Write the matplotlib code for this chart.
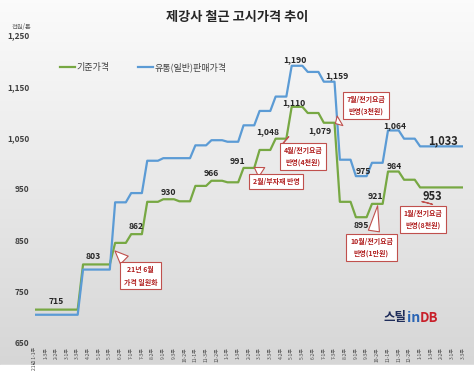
import numpy as np
import matplotlib
matplotlib.use("Agg")
import matplotlib.pyplot as plt
from matplotlib.lines import Line2D

plt.rcParams["font.family"] = ["Noto Sans CJK KR", "DejaVu Sans"]

# 3 points per month, Jan 2021 .. Mar 2023
base_price = [
    715, 715, 715, 715, 715, 715, 715, 715, 715,
    803, 803, 803, 803, 803, 803,
    845, 845, 845, 862, 862, 862, 925, 925, 925,
    930, 930, 930, 926, 926, 926, 956, 956, 956,
    966, 966, 966, 963, 963, 963, 991, 991, 991,
    1026, 1026, 1026, 1048, 1048, 1048, 1110, 1110, 1110,
    1098, 1098, 1098, 1079, 1079, 1079, 925, 925, 925,
    895, 895, 895, 921, 921, 921, 984, 984, 984,
    968, 968, 968, 953, 953, 953, 953, 953, 953, 953, 953, 953,
]
dist_price = [
    705, 705, 705, 705, 705, 705, 705, 705, 705,
    793, 793, 793, 793, 793, 793,
    924, 924, 924, 942, 942, 942, 1005, 1005, 1005,
    1010, 1010, 1010, 1010, 1010, 1010, 1035, 1035, 1035,
    1045, 1045, 1045, 1042, 1042, 1042, 1074, 1074, 1074,
    1102, 1102, 1102, 1130, 1130, 1130, 1190, 1190, 1190,
    1178, 1178, 1178, 1159, 1159, 1159, 1007, 1007, 1007,
    975, 975, 975, 1001, 1001, 1001, 1064, 1064, 1064,
    1048, 1048, 1048, 1033, 1033, 1033, 1033, 1033, 1033, 1033, 1033, 1033,
]
tick_labels = [
    "21년 1-1주", "1-3주", "2-2주", "3-1주", "3-3주", "4-2주", "5-1주", "5-3주",
    "6-2주", "7-1주", "7-3주", "8-2주", "9-1주", "9-3주", "10-2주", "11-1주",
    "11-3주", "12-2주", "1-1주", "1-3주", "2-2주", "3-1주", "3-3주", "4-2주",
    "5-1주", "5-3주", "6-2주", "7-1주", "7-3주", "8-2주", "9-1주", "9-3주",
    "10-2주", "11-1주", "11-3주", "12-2주", "1-1주", "1-3주", "2-2주", "3-1주",
    "3-3주",
]
y_ticks = [650, 750, 850, 950, 1050, 1150, 1250]

GREEN = "#77a843"
BLUE = "#5b9bd5"
RED = "#c0504d"
DARKRED = "#b01e1e"

fig = plt.figure(figsize=(4.74, 3.72), dpi=100)

# grey gradient background
bg = fig.add_axes([0, 0, 1, 1], zorder=0)
grad = np.linspace(0, 1, 256).reshape(-1, 1)
top, bottom = np.array([0.985, 0.985, 0.985]), np.array([0.84, 0.84, 0.84])
img = top + (bottom - top) * grad[:, :, None]
bg.imshow(img, aspect="auto", extent=[0, 1, 0.02, 1])
bg.axhspan(0, 0.02, color="white")
bg.set_xlim(0, 1)
bg.set_ylim(0, 1)
bg.axis("off")

ax = fig.add_axes([0.0736, 0.078, 0.903, 0.828], zorder=1)
ax.patch.set_alpha(0)
x = np.arange(len(base_price))
ax.plot(x, base_price, color=GREEN, lw=1.6)
ax.plot(x, dist_price, color=BLUE, lw=1.6)
ax.set_xlim(0, 80)
ax.set_ylim(650, 1250)
for s in ax.spines.values():
    s.set_visible(False)
ax.set_yticks(y_ticks)
ax.set_yticklabels([f"{v:,}" for v in y_ticks], fontsize=6, fontweight="bold",
                   color="#404040")
ax.set_xticks(range(0, 81, 2))
ax.set_xticklabels(tick_labels, rotation=90, fontsize=3.6, color="#505050")
ax.tick_params(length=0, pad=3)
ax.tick_params(axis="y", pad=4)

fig.text(22 / 474, 1 - 27 / 372, "천원/톤", fontsize=4.5, color="#606060",
         ha="center", va="center")
fig.text(0.5, 1 - 17 / 372, "제강사 철근 고시가격 추이", fontsize=9.5,
         fontweight="bold", color="#262626", ha="center", va="center")

handles = [Line2D([], [], color=GREEN, lw=1.6), Line2D([], [], color=BLUE, lw=1.6)]
fig.legend(handles, ["기준가격", "유통(일반)판매가격"], loc="center left",
           bbox_to_anchor=(52 / 474, 1 - 67 / 372), ncol=2, frameon=False,
           fontsize=6.5, handlelength=1.6, handletextpad=0.2, columnspacing=3.2,
           labelcolor="#404040")


def label(i, v, text, dx, dy, size=6.2, weight="bold"):
    ax.annotate(text, (i, v), xytext=(dx, dy), textcoords="offset pixels",
                ha="center", va="center", fontsize=size, fontweight=weight,
                color="#262626")


# base price labels
label(4, 715, "715", 0, 8)
label(11, 803, "803", 0, 8)
label(19, 862, "862", 0, 8)
label(25, 930, "930", 0, 7)
label(33, 966, "966", 0, 7)
label(39, 991, "991", -6, 6)
label(45, 1048, "1,048", -8, 7)
label(48, 1110, "1,110", 2, 4)
label(54, 1079, "1,079", -4, -8)
label(61, 895, "895", 0, -8)
label(63.7, 921, "921", 0, 7)
label(67.2, 984, "984", 0, 5)
label(74.3, 953, "953", 0, -9, size=8)
# distribution price labels
label(48.6, 1190, "1,190", 0, 6)
label(56.4, 1159, "1,159", 0, 6)
label(61.3, 975, "975", 0, 5)
label(67.3, 1064, "1,064", 0, 5)
label(76.3, 1033, "1,033", 0, 6, size=8)


def callout(text, tip, box):
    ax.annotate(text, tip, xytext=box, textcoords="data", ha="center",
                va="center", fontsize=5, fontweight="bold", color=DARKRED,
                linespacing=1.9,
                bbox=dict(boxstyle="square,pad=0.55", fc="white", ec=RED, lw=0.8),
                arrowprops=dict(arrowstyle="wedge,tail_width=1.6,shrink_factor=0.5",
                                fc="white", ec=RED, lw=0.8))


def px(xp, yp):
    return ((xp - 34.9) / 5.35, 650 + (343 - yp) / 0.5133)


callout("21년 6월\n가격 일원화", px(113, 249), px(140.5, 276))
callout("2월/부자재 반영", px(252, 166), px(276, 181.5))
callout("4월/전기요금\n반영(4천원)", px(283, 139), px(303, 156.5))
callout("7월/전기요금\n반영(3천원)", px(333, 125), px(366, 105.5))
callout("10월/전기요금\n반영(1만원)", px(378, 203), px(371.5, 247.5))
callout("1월/전기요금\n반영(8천원)", px(428, 200), px(423, 219.5))

# logo
fig.text(383 / 474, 1 - 318 / 372, "스틸", fontsize=9, fontweight="bold",
         color="#1f2d5a", ha="left", va="center")
fig.text(407.5 / 474, 1 - 318 / 372, "in", fontsize=10, fontweight="bold",
         color="#2a64b4", ha="left", va="center")
fig.text(419.5 / 474, 1 - 318 / 372, "DB", fontsize=9.5, fontweight="bold",
         color="#c8202a", ha="left", va="center")

fig.savefig("out.png", dpi=100)
